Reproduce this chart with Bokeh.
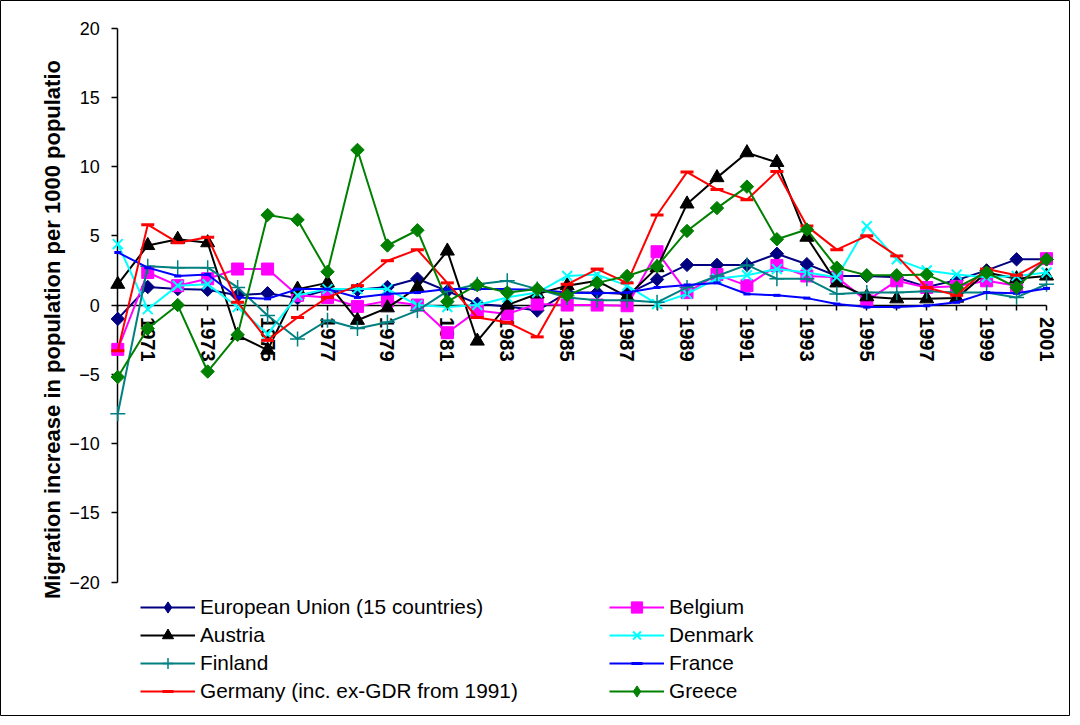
import math
from bokeh.plotting import figure
from bokeh.models import FixedTicker, Legend, LegendItem, Label, Range1d, ColumnDataSource
from bokeh.embed import file_html
from bokeh.resources import INLINE

years = list(range(1970, 2002))

eu = [-1.0, 1.3, 1.15, 1.1, 0.7, 0.85, 0.5, 1.1, 1.1, 1.3, 1.9, 1.0, 0.1, -0.1, -0.4, 0.9,
      0.9, 0.8, 1.85, 2.9, 2.9, 2.9, 3.7, 2.95, 2.1, 2.1, 2.0, 1.3, 1.8, 2.5, 3.3, 3.3]
belgium = [-3.2, 2.35, 1.4, 1.9, 2.6, 2.6, 0.7, 0.55, -0.1, 0.3, 0.0, -2.0, -0.4, -0.65, 0.07, 0.0,
           0.0, -0.05, 3.85, 0.9, 2.2, 1.4, 2.85, 2.1, 2.0, 0.3, 1.75, 1.27, 1.35, 1.75, 1.4, 3.35]
austria = [1.5, 4.3, 4.75, 4.5, -2.2, -3.25, 1.15, 1.6, -1.1, -0.2, 1.27, 3.9, -2.6, 0.0, 0.8, 1.4,
           1.75, 0.6, 2.7, 7.3, 9.2, 11.0, 10.3, 4.9, 1.6, 0.6, 0.45, 0.45, 0.5, 2.35, 1.9, 2.1]
denmark = [4.4, -0.3, 1.4, 1.5, -0.15, -2.1, 0.7, 1.15, 1.15, 1.15, 0.0, -0.15, 0.0, 0.55, 0.9, 2.1,
           2.2, 1.4, 0.07, 0.8, 1.9, 2.15, 2.6, 2.35, 2.0, 5.7, 3.3, 2.5, 2.2, 2.0, 2.1, 2.35]
finland = [-7.85, 2.8, 2.7, 2.7, 1.27, -0.75, -2.45, -1.1, -1.7, -1.25, -0.4, 1.0, 1.5, 1.75, 1.15, 0.55,
           0.35, 0.35, 0.2, 1.27, 2.1, 2.9, 1.9, 1.9, 0.8, 0.9, 0.9, 1.0, 0.9, 0.9, 0.55, 1.5]
france = [3.8, 2.7, 2.1, 2.2, 0.55, 0.45, 1.15, 1.15, 0.55, 0.8, 0.9, 1.15, 1.15, 1.15, 1.1, 0.9,
          0.85, 0.9, 1.27, 1.45, 1.6, 0.8, 0.7, 0.5, 0.07, -0.15, -0.15, -0.05, 0.2, 0.9, 0.85, 1.2]
germany = [-3.3, 5.8, 4.5, 4.9, 0.2, -2.55, -0.9, 0.55, 1.4, 3.2, 4.0, 1.6, -0.9, -1.25, -2.3, 1.5,
           2.6, 1.6, 6.5, 9.6, 8.35, 7.6, 9.65, 5.7, 4.0, 5.0, 3.55, 1.27, 0.7, 2.6, 2.15, 3.3]
greece = [-5.2, -1.7, 0.0, -4.8, -2.15, 6.5, 6.15, 2.4, 11.2, 4.3, 5.4, 0.25, 1.45, 0.9, 1.15, 0.7,
          1.6, 2.1, 2.8, 5.35, 7.0, 8.55, 4.75, 5.45, 2.7, 2.15, 2.15, 2.2, 1.27, 2.35, 1.27, 3.3]

y_ticks = [-20, -15, -10, -5, 0, 5, 10, 15, 20]
x_label_years = list(range(1971, 2002, 2))

FONT = "Liberation Sans"

p = figure(width=1070, height=716, output_backend="svg", toolbar_location=None,
           x_range=Range1d(1966.085, 2001.80), y_range=Range1d(-29.71, 21.99),
           min_border=0, min_border_left=0, min_border_right=0,
           min_border_top=0, min_border_bottom=0)
p.background_fill_color = "white"
p.border_fill_color = "white"
p.outline_line_color = "black"
p.outline_line_width = 1
p.xgrid.visible = False
p.ygrid.visible = False

# x axis crossing at y = 0
xa = p.xaxis[0]
xa.fixed_location = 0
xa.bounds = (1970, 2001)
xa.level = "underlay"
xa.ticker = FixedTicker(ticks=years, minor_ticks=[])
xa.major_label_overrides = {y: (str(y) if y in x_label_years else "") for y in years}
xa.major_label_orientation = "vertical"
xa.major_label_text_font = FONT
xa.major_label_text_font_style = "bold"
xa.major_label_text_font_size = "20px"
xa.major_label_text_color = "black"
xa.major_label_standoff = 7
xa.major_tick_out = 5
xa.major_tick_in = 0
xa.minor_tick_out = 0
xa.axis_line_width = 1.5
xa.major_tick_line_width = 1.5

ya = p.yaxis[0]
ya.fixed_location = 1970
ya.bounds = (-20, 20)
ya.level = "underlay"
ya.ticker = FixedTicker(ticks=y_ticks, minor_ticks=[])
ya.major_label_text_font = FONT
ya.major_label_text_font_size = "18px"
ya.major_label_text_color = "black"
ya.major_label_standoff = 12
ya.major_tick_out = 6
ya.major_tick_in = 0
ya.minor_tick_out = 0
ya.axis_line_width = 1.5
ya.major_tick_line_width = 1.5

# name, values, colour, marker, size, marker line width, marker angle, legend marker
series = [
    ("European Union (15 countries)", eu, "#000080", "square", 9.5, 1, math.pi / 4, "diamond"),
    ("Belgium", belgium, "#FF00FF", "square", 12, 1, 0, None),
    ("Austria", austria, "#000000", "triangle", 14, 1, 0, None),
    ("Denmark", denmark, "#00FFFF", "x", 14, 2, 0, None),
    ("Finland", finland, "#008080", "cross", 15, 1.5, 0, None),
    ("France", france, "#0000FF", "dash", 7, 3, 0, None),
    ("Germany (inc. ex-GDR from 1991)", germany, "#FF0000", "dash", 13, 3, 0, None),
    ("Greece", greece, "#008000", "square", 9.5, 1, math.pi / 4, "diamond"),
]

items = {}
for name, vals, color, marker, size, lw, ang, leg_marker in series:
    lr = p.line(years, vals, line_color=color, line_width=2)
    lg = None
    if leg_marker is not None:
        # diamond symbol used for the legend; it sits under the first point's marker
        src = ColumnDataSource(data=dict(x=years[:1], y=vals[:1]))
        lg = p.scatter("x", "y", source=src, marker=leg_marker, size=12,
                       fill_color=color, line_color=color, line_width=1)
    sr = p.scatter(years, vals, marker=marker, size=size, angle=ang, fill_color=color,
                   line_color=color, line_width=lw)
    items[name] = LegendItem(label=name, renderers=[lr, lg if lg is not None else sr])

def make_legend(names, loc):
    leg = Legend(items=[items[n] for n in names], location=loc, orientation="vertical")
    leg.label_text_font = FONT
    leg.label_text_font_size = "20.8px"
    leg.label_text_color = "black"
    leg.glyph_width = 55
    leg.glyph_height = 28
    leg.label_height = 28
    leg.spacing = 0
    leg.padding = 0
    leg.margin = 0
    leg.label_standoff = 5
    leg.border_line_alpha = 0
    leg.background_fill_alpha = 0
    return leg

p.add_layout(make_legend(["European Union (15 countries)", "Austria", "Finland",
                          "Germany (inc. ex-GDR from 1991)"], (140, 11)), "center")
p.add_layout(make_legend(["Belgium", "Denmark", "France", "Greece"], (609, 11)), "center")

title = Label(x=1967.82, y=-1.77, text="Migration increase in population per 1000 populatio",
              angle=math.pi / 2, text_align="center", text_baseline="middle",
              text_font=FONT, text_font_style="bold", text_font_size="22px",
              text_color="black")
p.add_layout(title)

open("out.html", "w").write(file_html(p, INLINE))
